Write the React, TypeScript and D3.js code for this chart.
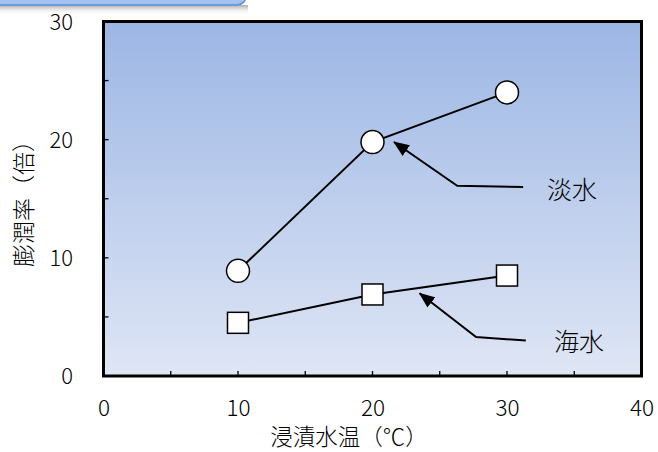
import React from "react";
import * as d3 from "d3";

const temps = [10, 20, 30];
const freshwater = [8.9, 19.8, 24.0];
const seawater = [4.5, 6.9, 8.5];
const xTicks = [0, 10, 20, 30, 40];
const yTicks = [0, 10, 20, 30];
const labelFresh = "淡水";
const labelSea = "海水";
const xTitle = "浸漬水温（℃）";
const yTitle = "膨潤率（倍）";

const W = 658, H = 452;
const L = 103.5, R = 641.5, T = 21.5, B = 376;
const FONT = "'Noto Sans CJK JP', 'Noto Sans', sans-serif";

export default function App() {
  const x = d3.scaleLinear().domain([0, 40]).range([L, R]);
  const y = d3.scaleLinear().domain([0, 30]).range([B, T]);
  const line = d3.line<number>().x((_, i) => x(temps[i])).y((d) => y(d));
  const allX = d3.range(0, 41, 5);
  const allY = d3.range(0, 31, 5);

  const freshArrow: [number, number][] = [[31.2, 16.0], [26.3, 16.1], [21.6, 19.8]];
  const seaArrow: [number, number][] = [[31.4, 3.0], [27.7, 3.3], [23.5, 7.0]];
  const arrowPath = (pts: [number, number][]) =>
    d3.line<[number, number]>().x((d) => x(d[0])).y((d) => y(d[1]))(pts) as string;

  return (
    <svg width={W} height={H} style={{ position: "absolute", left: 0, top: 0, display: "block" }}>
      <defs>
        <linearGradient id="bg" x1="0" y1="0" x2="0" y2="1">
          <stop offset="0" stopColor="#9cb6e4" />
          <stop offset="1" stopColor="#dfe6f5" />
        </linearGradient>
        <linearGradient id="shadow" x1="0" y1="0" x2="0" y2="1">
          <stop offset="0" stopColor="#888" stopOpacity="0.7" />
          <stop offset="1" stopColor="#fff" stopOpacity="0" />
        </linearGradient>
        <marker id="arrow" viewBox="0 0 16 13" refX="15" refY="6.5" markerWidth="16" markerHeight="13" markerUnits="userSpaceOnUse" orient="auto">
          <path d="M0,0 L16,6.5 L0,13 z" fill="#000" />
        </marker>
      </defs>
      <rect x={0} y={0} width={W} height={H} fill="#fff" />
      <rect x={-10} y={5} width={258} height={10} fill="url(#shadow)" />
      <rect x={-10} y={-20} width={256} height={25} rx={9} fill="#a3c1f2" stroke="#5a8fd8" strokeWidth={1.5} />

      <rect x={L} y={T} width={R - L} height={B - T} fill="url(#bg)" />
      {allX.map((v) => (
        <line key={"xt" + v} x1={x(v)} x2={x(v)} y1={B} y2={B - 5} stroke="#000" strokeWidth={1.3} />
      ))}
      {allY.map((v) => (
        <line key={"yt" + v} x1={L} x2={L + 5} y1={y(v)} y2={y(v)} stroke="#000" strokeWidth={1.3} />
      ))}
      <rect x={L} y={T} width={R - L} height={B - T} fill="none" stroke="#000" strokeWidth={3} />

      {xTicks.map((v) => (
        <text key={"xl" + v} x={x(v) + 0.5} y={416} textAnchor="middle" fontSize={22.5} fontWeight={300} fontFamily={FONT} fill="#000">{v}</text>
      ))}
      {yTicks.map((v) => (
        <text key={"yl" + v} x={73} y={y(v) + 8} textAnchor="end" fontSize={22} fontWeight={300} fontFamily={FONT} fill="#000">{v}</text>
      ))}
      <text x={349} y={445} textAnchor="middle" fontSize={22.5} fontWeight={300} fontFamily={FONT} fill="#000">{xTitle}</text>
      <text transform={`translate(32,${198}) rotate(-90)`} textAnchor="middle" fontSize={23} fontWeight={300} fontFamily={FONT} fill="#000">{yTitle}</text>

      <path d={line(freshwater) as string} fill="none" stroke="#000" strokeWidth={2} />
      <path d={line(seawater) as string} fill="none" stroke="#000" strokeWidth={2} />
      {freshwater.map((v, i) => (
        <circle key={"c" + i} cx={x(temps[i])} cy={y(v)} r={11.5} fill="#fff" stroke="#000" strokeWidth={1.5} />
      ))}
      {seawater.map((v, i) => (
        <rect key={"s" + i} x={x(temps[i]) - 10.5} y={y(v) - 10.5} width={21} height={21} fill="#fff" stroke="#000" strokeWidth={1.5} />
      ))}

      <path d={arrowPath(freshArrow)} fill="none" stroke="#000" strokeWidth={2} markerEnd="url(#arrow)" />
      <path d={arrowPath(seaArrow)} fill="none" stroke="#000" strokeWidth={2} markerEnd="url(#arrow)" />
      <text x={547} y={199} fontSize={25} fontWeight={300} fontFamily={FONT} fill="#000">{labelFresh}</text>
      <text x={554} y={351} fontSize={25} fontWeight={300} fontFamily={FONT} fill="#000">{labelSea}</text>
    </svg>
  );
}
